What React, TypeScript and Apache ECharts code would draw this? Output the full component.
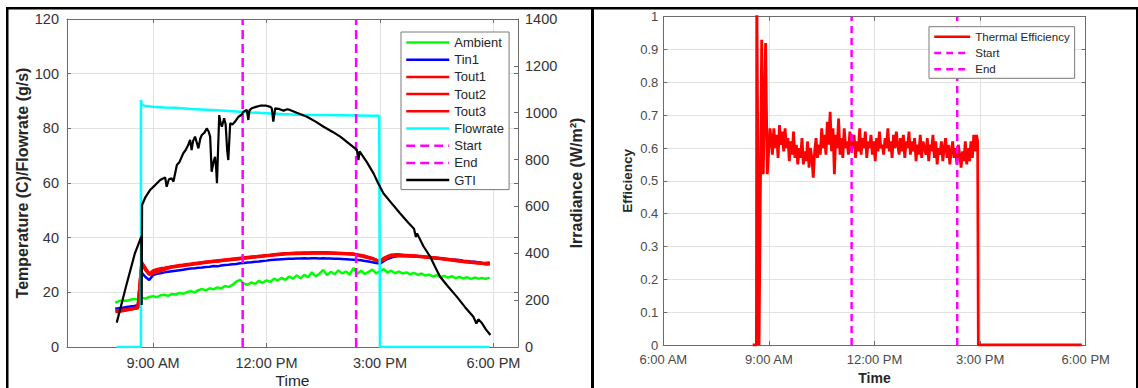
import React, { useEffect, useRef } from "react";
import * as echarts from "echarts";

// ---------------- DATA ----------------
// Left panel: temperatures sampled every 0.1 h starting 8.0 h (hours of day)
const TEMP_T0 = 8.0;
const TEMP_STEP = 0.1;

const ambient = [
  16.2, 16.8, 17.0, 16.9, 17.3, 17.6, 17.4, 18.0, 17.7, 18.3,
  18.6, 18.2, 18.9, 19.1, 18.7, 19.4, 19.2, 19.8, 19.5, 20.1,
  20.4, 20.0, 20.8, 21.2, 20.7, 21.5, 21.1, 21.8, 21.4, 22.3,
  22.0, 22.7, 23.9, 24.6, 23.2, 22.8, 23.6, 23.1, 24.2, 23.5,
  24.4, 23.8, 25.0, 24.3, 25.3, 24.6, 25.8, 25.0, 26.2, 25.1,
  26.4, 25.5, 27.3, 25.9, 26.8, 28.2, 26.3, 27.5, 26.6, 28.0,
  26.9, 27.6, 26.5, 28.9, 26.8, 27.9, 26.7, 27.5, 28.3, 26.9,
  27.8, 28.5, 27.2, 27.9, 27.0, 27.6, 26.9, 27.3, 26.6, 27.1,
  26.4, 26.9, 26.1, 26.5, 25.8, 26.3, 25.6, 26.0, 25.4, 25.9,
  25.2, 25.6, 25.1, 25.5, 24.9, 25.4, 25.0, 25.3, 24.9, 25.4,
];

const tin1 = [
  14.0, 14.2, 14.4, 14.6, 14.8, 15.0, 15.3, 27.2, 25.6, 24.5,
  26.3, 26.8, 27.0, 27.3, 27.5, 27.7, 27.9, 28.1, 28.3, 28.5,
  28.7, 28.8, 29.0, 29.1, 29.3, 29.4, 29.6, 29.5, 29.8, 30.0,
  30.1, 30.3, 30.4, 30.6, 30.7, 30.9, 31.0, 31.2, 31.3, 31.5,
  31.6, 31.8, 31.9, 32.0, 32.1, 32.2, 32.3, 32.3, 32.4, 32.4,
  32.5, 32.4, 32.5, 32.5, 32.4, 32.5, 32.4, 32.4, 32.3, 32.3,
  32.2, 32.1, 32.0, 31.9, 31.8, 31.7, 31.5, 31.3, 31.0, 30.7,
  30.5, 31.4, 32.2, 32.7, 33.1, 33.3, 33.3, 33.3, 33.2, 33.2,
  33.1, 33.0, 32.9, 32.8, 32.7, 32.6, 32.5, 32.3, 32.2, 32.0,
  31.9, 31.8, 31.6, 31.5, 31.3, 31.2, 31.0, 30.8, 30.7, 30.9,
];

const tout1 = [
  [8.04, 13.1], [8.6, 14.5], [8.7, 31.0], [8.9, 26.8], [9.5, 29.4], [10.5, 31.3],
  [11.5, 32.8], [12.5, 34.2], [13.5, 34.6], [14.3, 34.0], [14.8, 32.4], [15.0, 31.3],
  [15.3, 33.7], [16.0, 33.3], [16.6, 32.5], [17.2, 31.3], [17.9, 30.4],
];

const tout2 = [
  [8.04, 12.8], [8.6, 14.3], [8.7, 30.2], [8.9, 26.5], [9.5, 29.2], [10.5, 31.1],
  [11.5, 32.6], [12.5, 34.0], [13.5, 34.4], [14.3, 33.9], [14.8, 32.3], [15.0, 31.2],
  [15.3, 33.5], [16.0, 33.1], [16.6, 32.3], [17.2, 31.2], [17.9, 30.3],
];

const tout3 = [
  12.9, 13.2, 13.4, 13.6, 13.9, 14.1, 14.4, 30.8, 28.2, 26.7,
  27.9, 28.4, 28.7, 28.9, 29.2, 29.4, 29.6, 29.9, 30.0, 30.3,
  30.4, 30.6, 30.7, 30.9, 31.1, 31.2, 31.4, 31.3, 31.6, 31.8,
  31.9, 32.1, 32.2, 32.4, 32.5, 32.7, 32.9, 33.0, 33.2, 33.3,
  33.5, 33.6, 33.8, 33.9, 34.0, 34.1, 34.2, 34.3, 34.4, 34.4,
  34.5, 34.4, 34.6, 34.5, 34.5, 34.6, 34.5, 34.4, 34.4, 34.3,
  34.3, 34.2, 34.1, 34.0, 33.8, 33.6, 33.3, 32.9, 32.4, 31.7,
  31.3, 32.5, 33.2, 33.6, 33.8, 33.8, 33.7, 33.6, 33.5, 33.4,
  33.2, 33.1, 32.9, 32.8, 32.6, 32.5, 32.4, 32.2, 32.0, 31.9,
  31.8, 31.6, 31.4, 31.3, 31.1, 31.0, 30.8, 30.6, 30.4, 30.6,
];

const flowrate = [
  [8.04, 0], [8.68, 0], [8.68, 90.4], [8.7, 88.6], [8.8, 88.2], [9.0, 87.9],
  [9.3, 87.6], [9.6, 87.5], [10.0, 87.1], [10.4, 86.8], [10.8, 86.5], [11.2, 86.2],
  [11.6, 85.8], [12.0, 85.5], [12.4, 85.2], [12.8, 85.0], [13.2, 84.9], [13.6, 84.9],
  [14.0, 84.8], [14.4, 84.7], [14.8, 84.6], [14.98, 84.6], [15.0, 0], [17.9, 0],
];

const gti = [
  [8.04, 104], [8.28, 255], [8.52, 400], [8.69, 471], [8.7, 179], [8.71, 606],
  [8.8, 640], [8.92, 670], [9.05, 690], [9.19, 713], [9.32, 724], [9.36, 684],
  [9.42, 716], [9.49, 720], [9.54, 706], [9.63, 777], [9.7, 790], [9.8, 827],
  [9.86, 840], [9.93, 862], [9.98, 884], [10.02, 841], [10.06, 880], [10.11, 898],
  [10.16, 870], [10.2, 848], [10.25, 890], [10.29, 905], [10.36, 915], [10.42, 933],
  [10.47, 920], [10.51, 898], [10.55, 748], [10.6, 790], [10.64, 812], [10.67, 760],
  [10.69, 699], [10.75, 990], [10.78, 960], [10.82, 940], [10.88, 976], [10.92, 950],
  [10.96, 840], [10.99, 798], [11.04, 955], [11.1, 950], [11.17, 962], [11.26, 983],
  [11.33, 990], [11.39, 1004], [11.48, 1012], [11.52, 969], [11.55, 1010], [11.61, 1019],
  [11.72, 1025], [11.83, 1030], [12.0, 1030], [12.1, 1025], [12.14, 1019], [12.18, 962],
  [12.23, 1019], [12.35, 1015], [12.45, 1009], [12.55, 1015], [12.62, 1012], [12.8, 1000],
  [13.07, 983], [13.3, 962], [13.51, 940], [13.75, 918], [13.95, 898], [14.2, 866],
  [14.39, 841], [14.43, 798], [14.46, 835], [14.65, 790], [14.83, 741], [14.95, 700],
  [15.09, 656], [15.3, 615], [15.53, 571], [15.75, 530], [15.9, 505], [15.95, 470],
  [15.98, 485], [16.15, 430], [16.33, 385], [16.45, 345], [16.59, 300], [16.8, 258],
  [17.03, 215], [17.25, 170], [17.47, 129], [17.55, 100], [17.6, 118], [17.7, 101],
  [17.8, 75], [17.92, 51],
];

const startTime = 11.37;
const endTime = 14.37;

// Right panel: thermal efficiency
const effLead = [
  [8.54, 0], [8.645, 0], [8.655, 1.1], [8.72, 0.0], [8.795, 0.93], [8.84, 0.52],
  [8.905, 0.92], [8.955, 0.52], [9.03, 0.66],
];
const EFF_T0 = 9.06;
const EFF_STEP = 0.04;
const effNoise = [
  0.63, 0.58, 0.66, 0.60, 0.64, 0.57, 0.67, 0.61, 0.65, 0.59,
  0.66, 0.60, 0.63, 0.56, 0.62, 0.58, 0.65, 0.57, 0.61, 0.55,
  0.60, 0.57, 0.63, 0.55, 0.59, 0.56, 0.62, 0.54, 0.60, 0.57,
  0.51, 0.59, 0.63, 0.57, 0.61, 0.58, 0.66, 0.60, 0.64, 0.58,
  0.68, 0.61, 0.71, 0.59, 0.66, 0.52, 0.64, 0.60, 0.69, 0.58,
  0.63, 0.57, 0.66, 0.60, 0.62, 0.58, 0.65, 0.59, 0.61, 0.64,
  0.57, 0.62, 0.59, 0.66, 0.58, 0.63, 0.60, 0.65, 0.57, 0.62,
  0.60, 0.64, 0.58, 0.62, 0.56, 0.63, 0.59, 0.65, 0.60, 0.61,
  0.58, 0.63, 0.60, 0.66, 0.59, 0.62, 0.57, 0.64, 0.60, 0.65,
  0.61, 0.58, 0.63, 0.59, 0.64, 0.57, 0.62, 0.60, 0.65, 0.58,
  0.62, 0.59, 0.63, 0.56, 0.61, 0.58, 0.64, 0.57, 0.62, 0.60,
  0.58, 0.63, 0.56, 0.61, 0.59, 0.64, 0.57, 0.62, 0.55, 0.60,
  0.58, 0.62, 0.56, 0.60, 0.63, 0.57, 0.61, 0.55, 0.59, 0.62,
  0.57, 0.60, 0.55, 0.61, 0.58, 0.54, 0.59, 0.56, 0.62, 0.55,
  0.60, 0.56, 0.62, 0.57, 0.64, 0.59, 0.64,
];
const effTail = [[14.93, 0.62], [14.95, 0], [17.89, 0]];

const effStartTime = 11.35;
const effEndTime = 14.35;

// Tick labels
const leftXTicks = [9, 12, 15, 18];
const leftXLabels = ["9:00 AM", "12:00 PM", "3:00 PM", "6:00 PM"];
const rightXTicks = [6, 9, 12, 15, 18];
const rightXLabels = ["6:00 AM", "9:00 AM", "12:00 PM", "3:00 PM", "6:00 PM"];

const leftLegendNames = ["Ambient", "Tin1", "Tout1", "Tout2", "Tout3", "Flowrate", "Start", "End", "GTI"];

// ---------------- CHART ----------------
const FONT = "'Liberation Sans', Arial, Helvetica, sans-serif";
const AXIS = "#6b6b6b";
const GRID = "#e2e2e2";

function gridded(values: number[], t0: number, step: number) {
  return values.map((v, i) => [Math.round((t0 + i * step) * 1000) / 1000, v]);
}

function lineSeries(name: string, data: any, color: string, width: number, xi: number, yi: number, dashed?: number[]) {
  return {
    name,
    type: "line",
    xAxisIndex: xi,
    yAxisIndex: yi,
    data,
    symbol: "none",
    showSymbol: false,
    smooth: false,
    animation: false,
    silent: true,
    lineStyle: { color, width, type: dashed ? dashed : "solid" },
    itemStyle: { color },
  };
}

export default function App() {
  const ref = useRef<HTMLDivElement>(null);

  useEffect(() => {
    if (!ref.current) return;
    const chart = echarts.init(ref.current, undefined, { renderer: "svg" });

    const effData = [...effLead, ...gridded(effNoise, EFF_T0, EFF_STEP), ...effTail];

    const baseX = (gridIndex: number) => ({
      gridIndex,
      type: "value",
      axisLine: { show: true, onZero: false, lineStyle: { color: AXIS, width: 1 } },
    });

    const legendCommon = {
      orient: "vertical",
      padding: [4, 5, 3, 4],
      borderColor: "#7a7a7a",
      borderWidth: 1,
      borderRadius: 0,
      backgroundColor: "#ffffff",
      selectedMode: false,
      lineStyle: { width: 2.5 },
      itemStyle: { opacity: 0, borderWidth: 0 },
    };

    const option: any = {
      animation: false,
      backgroundColor: "#ffffff",
      textStyle: { fontFamily: FONT },
      grid: [
        { left: 67, top: 19, width: 451, height: 328, containLabel: false, outerBoundsMode: "none" },
        { left: 663.3, top: 16.7, width: 422.4, height: 328.3, containLabel: false, outerBoundsMode: "none" },
      ],
      xAxis: [
        {
          ...baseX(0),
          min: 6.725,
          max: 18.65,
          position: "bottom",
          axisTick: { show: true, inside: true, length: 4, customValues: leftXTicks, lineStyle: { color: AXIS } },
          axisLabel: {
            show: true,
            customValues: leftXTicks,
            formatter: (v: number) => {
              const i = leftXTicks.indexOf(Math.round(v));
              return i >= 0 ? leftXLabels[i] : "";
            },
            color: "#333333",
            fontSize: 14.5,
            fontFamily: FONT,
            margin: 8,
          },
          splitLine: { show: true, lineStyle: { color: GRID, width: 1 } },
          name: "Time",
          nameLocation: "middle",
          nameGap: 25.5,
          nameMoveOverlap: false,
          nameTextStyle: { fontSize: 15.5, lineHeight: 15, color: "#262626", fontFamily: FONT },
        },
        {
          ...baseX(0),
          min: 6.725,
          max: 18.65,
          position: "top",
          axisTick: { show: true, inside: true, length: 4, customValues: leftXTicks, lineStyle: { color: AXIS } },
          axisLabel: { show: false },
          splitLine: { show: false },
        },
        {
          ...baseX(1),
          min: 6,
          max: 18,
          interval: 3,
          position: "bottom",
          axisTick: { show: true, inside: true, length: 4, lineStyle: { color: AXIS } },
          axisLabel: {
            show: true,
            formatter: (v: number) => {
              const i = rightXTicks.indexOf(Math.round(v));
              return i >= 0 ? rightXLabels[i] : "";
            },
            color: "#4a4a4a",
            fontSize: 13,
            fontFamily: FONT,
            margin: 8,
          },
          splitLine: { show: true, lineStyle: { color: GRID, width: 1 } },
          name: "Time",
          nameLocation: "middle",
          nameGap: 25,
          nameTextStyle: { fontSize: 14, fontWeight: "bold", color: "#262626", fontFamily: FONT },
        },
        {
          ...baseX(1),
          min: 6,
          max: 18,
          interval: 3,
          position: "top",
          axisTick: { show: true, inside: true, length: 4, lineStyle: { color: AXIS } },
          axisLabel: { show: false },
          splitLine: { show: false },
        },
      ],
      yAxis: [
        {
          gridIndex: 0,
          type: "value",
          min: 0,
          max: 120,
          interval: 20,
          position: "left",
          axisLine: { show: true, lineStyle: { color: AXIS } },
          axisTick: { show: true, inside: true, length: 4, lineStyle: { color: AXIS } },
          axisLabel: { color: "#333333", fontSize: 14.5, fontFamily: FONT, margin: 8, formatter: (v: number) => String(v) },
          splitLine: { show: true, lineStyle: { color: GRID, width: 1 } },
          name: "Temperature (C)/Flowrate (g/s)",
          nameLocation: "middle",
          nameRotate: 90,
          nameGap: 35,
          nameTextStyle: { fontSize: 16, fontWeight: "bold", color: "#262626", fontFamily: FONT },
        },
        {
          gridIndex: 0,
          type: "value",
          min: 0,
          max: 1400,
          interval: 200,
          position: "right",
          axisLine: { show: true, lineStyle: { color: AXIS } },
          axisTick: { show: true, inside: true, length: 4, lineStyle: { color: AXIS } },
          axisLabel: { color: "#333333", fontSize: 14.5, fontFamily: FONT, margin: 7, formatter: (v: number) => String(v) },
          splitLine: { show: false },
          name: "Irradiance (W/m²)",
          nameLocation: "middle",
          nameRotate: 90,
          nameGap: 50,
          nameTextStyle: { fontSize: 16, fontWeight: "bold", color: "#262626", fontFamily: FONT },
        },
        {
          gridIndex: 0,
          type: "value",
          min: 0,
          max: 120,
          interval: 20,
          position: "right",
          axisLine: { show: false },
          axisTick: { show: true, inside: true, length: 4, lineStyle: { color: AXIS } },
          axisLabel: { show: false },
          splitLine: { show: false },
        },
        {
          gridIndex: 1,
          type: "value",
          min: 0,
          max: 1,
          interval: 0.1,
          position: "left",
          axisLine: { show: true, lineStyle: { color: AXIS } },
          axisTick: { show: true, inside: true, length: 4, lineStyle: { color: AXIS } },
          axisLabel: { color: "#4a4a4a", fontSize: 13, fontFamily: FONT, margin: 5 },
          splitLine: { show: true, lineStyle: { color: GRID, width: 1 } },
          name: "Efficiency",
          nameLocation: "middle",
          nameRotate: 90,
          nameGap: 29,
          nameTextStyle: { fontSize: 13.5, fontWeight: "bold", color: "#262626", fontFamily: FONT },
        },
        {
          gridIndex: 1,
          type: "value",
          min: 0,
          max: 1,
          interval: 0.1,
          position: "right",
          axisLine: { show: true, lineStyle: { color: AXIS } },
          axisTick: { show: true, inside: true, length: 4, lineStyle: { color: AXIS } },
          axisLabel: { show: false },
          splitLine: { show: false },
        },
      ],
      legend: [
        {
          ...legendCommon,
          data: leftLegendNames,
          left: 401,
          top: 32,
          itemWidth: 43,
          itemHeight: 14,
          itemGap: 4.2,
          textStyle: { fontSize: 13, color: "#262626", fontFamily: FONT },
        },
        {
          ...legendCommon,
          data: ["Thermal Efficiency", "Start_R", "End_R"],
          left: 929,
          top: 26.7,
          itemWidth: 36,
          itemHeight: 12,
          itemGap: 4.3,
          formatter: (n: string) => (n === "Start_R" ? "Start" : n === "End_R" ? "End" : n),
          textStyle: { fontSize: 11.5, color: "#262626", fontFamily: FONT },
        },
      ],
      series: [
        lineSeries("Ambient", gridded(ambient, TEMP_T0, TEMP_STEP), "#00ff00", 2.5, 0, 0),
        lineSeries("Tin1", gridded(tin1, TEMP_T0, TEMP_STEP), "#0000ff", 2.5, 0, 0),
        lineSeries("Tout1", tout1, "#ff0000", 3, 0, 0),
        lineSeries("Tout2", tout2, "#ff0000", 3, 0, 0),
        lineSeries("Tout3", gridded(tout3, TEMP_T0, TEMP_STEP), "#ff0000", 3, 0, 0),
        lineSeries("Flowrate", flowrate, "#00ffff", 2.5, 0, 0),
        lineSeries("Start", [[startTime, 0], [startTime, 120]], "#ff00ff", 2.5, 0, 0, [9, 5]),
        lineSeries("End", [[endTime, 0], [endTime, 120]], "#ff00ff", 2.5, 0, 0, [9, 5]),
        lineSeries("GTI", gti, "#000000", 2.2, 0, 1),
        lineSeries("Thermal Efficiency", effData, "#ff0000", 2.8, 2, 3),
        lineSeries("Start_R", [[effStartTime, 0], [effStartTime, 1]], "#ff00ff", 2.5, 2, 3, [7, 5]),
        lineSeries("End_R", [[effEndTime, 0], [effEndTime, 1]], "#ff00ff", 2.5, 2, 3, [7, 5]),
      ],
      graphic: [
        { type: "rect", z: 100, shape: { x: 6, y: 7, width: 1132, height: 2.5 }, style: { fill: "#000" }, silent: true },
        { type: "rect", z: 100, shape: { x: 6, y: 7, width: 2.5, height: 381 }, style: { fill: "#000" }, silent: true },
        { type: "rect", z: 100, shape: { x: 591, y: 7, width: 3, height: 381 }, style: { fill: "#000" }, silent: true },
        { type: "rect", z: 100, shape: { x: 1136, y: 7, width: 2, height: 381 }, style: { fill: "#000" }, silent: true },
      ],
    };

    chart.setOption(option);
    return () => chart.dispose();
  }, []);

  return (
    <div
      ref={ref}
      style={{ position: "absolute", left: 0, top: 0, width: 1138, height: 388, background: "#fff" }}
    />
  );
}
